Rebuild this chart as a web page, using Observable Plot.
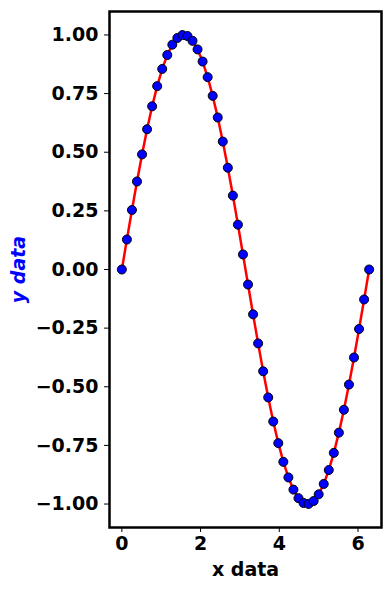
<!DOCTYPE html>
<html>
<head>
<meta charset="utf-8">
<script src="https://cdn.jsdelivr.net/npm/d3@7"></script>
<script src="https://cdn.jsdelivr.net/npm/@observablehq/plot@0.6"></script>
<style>
  html, body { margin: 0; padding: 0; background: #fff; }
  #chart svg { display: block; }
</style>
</head>
<body>
<div id="chart"></div>
<script>
const xValues = [0, 0.1282, 0.2565, 0.3847, 0.5129, 0.6411, 0.7694, 0.8976, 1.0258, 1.1541,
  1.2823, 1.4105, 1.5387, 1.6670, 1.7952, 1.9234, 2.0517, 2.1799, 2.3081, 2.4363,
  2.5646, 2.6928, 2.8210, 2.9493, 3.0775, 3.2057, 3.3339, 3.4622, 3.5904, 3.7186,
  3.8468, 3.9751, 4.1033, 4.2315, 4.3598, 4.4880, 4.6162, 4.7444, 4.8727, 5.0009,
  5.1291, 5.2574, 5.3856, 5.5138, 5.6420, 5.7703, 5.8985, 6.0267, 6.1550, 6.2832];
const yValues = [0, 0.1279, 0.2537, 0.3753, 0.4907, 0.5981, 0.6957, 0.7818, 0.8551, 0.9144,
  0.9587, 0.9872, 0.9995, 0.9954, 0.9749, 0.9385, 0.8866, 0.8202, 0.7403, 0.6482,
  0.5455, 0.4339, 0.3151, 0.1912, 0.0641, -0.0641, -0.1912, -0.3151, -0.4339, -0.5455,
  -0.6482, -0.7403, -0.8202, -0.8866, -0.9385, -0.9749, -0.9954, -0.9995, -0.9872, -0.9587,
  -0.9144, -0.8551, -0.7818, -0.6957, -0.5981, -0.4907, -0.3753, -0.2537, -0.1279, 0];
const xTicks = [0, 2, 4, 6];
const yTicks = [-1, -0.75, -0.5, -0.25, 0, 0.25, 0.5, 0.75, 1];
const xLabel = "x data";
const yLabel = "y data";

const data = xValues.map((x, i) => ({x, y: yValues[i]}));
const font = "'DejaVu Sans', sans-serif";

const chart = Plot.plot({
  width: 390,
  height: 590,
  marginLeft: 109,
  marginRight: 9,
  marginTop: 11,
  marginBottom: 63,
  style: {fontFamily: font, fontSize: "19px", fontWeight: "bold", color: "black", background: "white"},
  x: {domain: [-0.314, 6.597]},
  y: {domain: [-1.1, 1.1]},
  marks: [
    Plot.line(data, {x: "x", y: "y", stroke: "red", strokeWidth: 2.5}),
    Plot.dot(data, {x: "x", y: "y", r: 4.5, fill: "blue", stroke: "black", strokeWidth: 1}),
    Plot.frame({stroke: "black", strokeWidth: 2.5}),
    Plot.axisX(xTicks, {tickSize: 5, tickPadding: 4, tickFormat: d => d3.format("d")(d), fontSize: 19, fontWeight: "bold",
      label: xLabel, labelAnchor: "center", labelArrow: "none", labelOffset: 48}),
    Plot.axisY(yTicks, {tickSize: 5, tickPadding: 6, tickFormat: d3.format(".2f"), fontSize: 19, fontWeight: "bold", label: null}),
    Plot.text([yLabel], {frameAnchor: "left", dx: -91, text: d => d, rotate: -90, textAnchor: "middle",
      fill: "blue", fontStyle: "italic", fontWeight: "bold", fontSize: 19})
  ]
});
document.getElementById("chart").append(chart);
</script>
</body>
</html>
